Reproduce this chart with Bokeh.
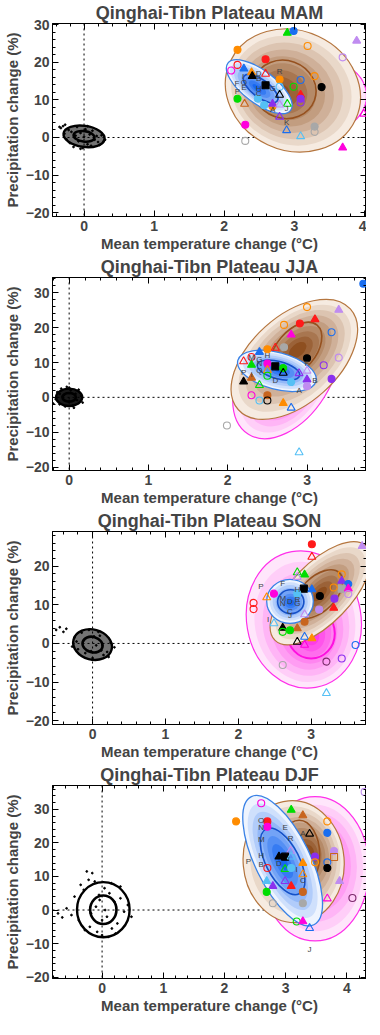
import numpy as np
from bokeh.plotting import figure
from bokeh.layouts import column
from bokeh.models import ColumnDataSource, Span, LinearAxis, Range1d, SingleIntervalTicker
from bokeh.embed import file_html
from bokeh.resources import INLINE
from bokeh.core.properties import value

FONT = "Liberation Sans"

seasons = ["MAM", "JJA", "SON", "DJF"]
title_prefix = "Qinghai-Tibn Plateau "
x_label = "Mean temperature change (\u00b0C)"
y_label = "Precipitation change (%)"

# axis ranges
x_ranges = {"MAM": (-0.45, 4.03), "JJA": (-0.21, 3.75), "SON": (-0.55, 3.76), "DJF": (-0.81, 4.32)}
y_ranges = {"MAM": (-21.0, 30.3), "JJA": (-21.0, 34.4), "SON": (-21.0, 29.0), "DJF": (-20.4, 37.1)}

# ---------------- model markers: temperature change, precipitation change, symbol kind, model colour
mam_t = [2.90, 2.99, 3.89, 2.19, 3.19, 2.19, 3.69, 2.10, 2.59, 2.28,
         2.39, 2.40, 2.59, 2.59, 2.79, 3.09, 3.29, 2.99, 3.39, 2.79,
         2.79, 3.09, 3.09, 3.09, 2.19, 2.29, 2.57, 2.48, 2.69, 2.69,
         2.90, 2.79, 2.79, 2.30, 2.89, 3.09, 3.29, 3.29, 2.30, 3.69, 3.99]
mam_p = [27.8, 28.3, 25.7, 23.3, 24.3, 19.3, 21.3, 17.8, 20.8, 18.3,
         17.3, 16.3, 16.9, 13.9, 15.4, 15.3, 16.3, 13.5, 13.4, 13.5,
         11.3, 11.3, 10.3, 9.3, 10.3, 8.9, 8.6, 10.3, 8.3, 8.9,
         8.9, 8.7, 5.5, 3.4, 1.9, 0.3, 2.9, 1.5, -0.9, -2.7, 6.3]
mam_k = ['t', 'c', 't', 'c', 'o', 'o', 'o', 'o', 'c', 't',
         't', 't', 'v', 's', 'c', 'o', 'o', 'o', 'c', 'o',
         'v', 't', 'c', 'o', 'c', 'v', 'c', 'c', 'c', 't',
         'v', 'v', 'v', 'c', 'v', 'v', 'c', 'o', 'o', 't', 'v']
mam_c = ['green', 'blue', 'lpurple', 'orange', 'orange', 'red', 'lpurple', 'magenta', 'red', 'blue',
         'orange', 'black', 'red', 'black', 'orange', 'blue', 'orange', 'green', 'black', 'lblue',
         'black', 'red', 'purple', 'purple', 'green', 'brown', 'lblue', 'lblue', 'orange', 'purple',
         'green', 'lpurple', 'purple', 'magenta', 'blue', 'lblue', 'gray', 'gray', 'gray', 'magenta', 'magenta']

jja_t = [3.71, 3.00, 3.40, 2.71, 2.91, 3.10, 3.31, 2.80, 2.50, 2.60,
         2.71, 2.40, 2.30, 3.00, 3.40, 2.20, 2.30, 2.50, 2.60, 2.70,
         3.21, 3.00, 2.70, 2.90, 2.50, 2.50, 2.20, 2.30, 2.40, 2.80,
         3.00, 3.31, 3.00, 2.30, 2.50, 2.40, 2.50, 2.70, 2.80, 1.99, 2.90]
jja_p = [32.6, 25.9, 25.1, 20.8, 21.2, 22.4, 18.7, 18.0, 13.8, 14.2,
         14.4, 13.0, 11.6, 11.2, 11.4, 10.3, 9.3, 9.7, 8.9, 8.4,
         9.2, 7.6, 7.0, 6.9, 7.8, 6.2, 4.5, 5.6, 3.5, 4.4,
         5.1, 5.3, 3.2, 0.6, 0.6, -0.9, -0.9, -1.7, -3.0, -8.1, -15.8]
jja_k = ['c', 'o', 't', 'o', 'c', 't', 'o', 't', 'c', 'v',
         'c', 't', 'o', 'c', 'o', 'v', 't', 'c', 's', 'c',
         'o', 'v', 'v', 'v', 'v', 'o', 't', 't', 'v', 'c',
         't', 'c', 'c', 'o', 'c', 'o', 'o', 't', 'v', 'o', 'v']
jja_c = ['blue', 'orange', 'lpurple', 'orange', 'red', 'red', 'blue', 'magenta', 'orange', 'red',
         'gray', 'blue', 'red', 'black', 'lpurple', 'red', 'green', 'magenta', 'black', 'green',
         'purple', 'lpurple', 'black', 'purple', 'orange', 'green', 'black', 'brown', 'green', 'lblue',
         'purple', 'purple', 'lpurple', 'magenta', 'brown', 'lblue', 'black', 'orange', 'blue', 'gray', 'lblue']

son_t = [3.01, 3.70, 3.01, 2.81, 2.91, 2.81, 3.42, 3.42, 3.51, 3.42,
         3.51, 3.51, 3.31, 2.90, 3.01, 3.12, 3.32, 3.31, 3.11, 2.49,
         2.81, 2.39, 2.21, 2.21, 2.91, 2.91, 2.61, 2.81, 2.61, 2.71,
         2.81, 2.91, 3.01, 2.91, 3.61, 3.42, 3.21, 2.61, 3.21, 2.49]
son_p = [25.7, 25.2, 22.4, 18.4, 17.8, 17.2, 17.9, 16.2, 15.4, 14.2,
         14.2, 12.8, 14.5, 14.2, 14.0, 12.3, 11.6, 9.2, 8.8, 12.9,
         12.9, 11.9, 10.5, 8.9, 7.5, 5.6, 4.0, 3.9, 3.0, 3.4,
         0.4, 1.7, 1.3, -0.4, -0.4, -3.9, -4.7, -5.6, -12.9, 5.2]
son_k = ['c', 't', 'v', 'v', 't', 'v', 'o', 't', 'c', 's',
         't', 'o', 'o', 's', 't', 'c', 'c', 't', 'c', 'c',
         'c', 'v', 'o', 'o', 'v', 'c', 't', 't', 'o', 'c',
         'v', 'v', 't', 'v', 'o', 'o', 'o', 'o', 'v', 'v']
son_c = ['red', 'lpurple', 'red', 'green', 'green', 'lpurple', 'orange', 'purple', 'blue', 'gray',
         'magenta', 'lpurple', 'orange', 'black', 'blue', 'black', 'purple', 'red', 'lpurple', 'magenta',
         'lblue', 'orange', 'red', 'red', 'lpurple', 'brown', 'black', 'brown', 'green', 'green',
         'black', 'blue', 'orange', 'magenta', 'blue', 'purple', 'dpurple', 'gray', 'lblue', 'lblue']

djf_t = [4.29, 2.60, 3.09, 3.28, 2.19, 2.70, 3.68, 2.70, 3.39, 3.68,
         3.79, 3.08, 2.89, 2.99, 3.09, 3.48, 3.79, 3.48, 3.28, 3.68,
         3.68, 2.70, 2.99, 3.09, 3.28, 2.69, 3.88, 2.99, 2.79, 3.09,
         2.69, 3.28, 3.68, 4.09, 2.79, 3.28, 3.18, 3.28, 3.39]
djf_p = [35.2, 31.8, 29.8, 28.2, 26.4, 26.4, 26.4, 24.8, 22.7, 23.0,
         17.6, 17.6, 15.9, 15.9, 15.9, 15.9, 15.8, 14.2, 14.0, 14.2,
         12.5, 12.5, 12.2, 12.5, 10.6, 8.6, 8.6, 8.6, 7.1, 7.1,
         5.4, 5.4, 3.4, 3.6, 2.0, 2.0, -3.4, -3.4, -5.4]
djf_k = ['o', 'o', 't', 't', 'c', 'c', 'o', 'c', 'v', 'c',
         'c', 'v', 't', 's', 'v', 'c', 'q', 'o', 't', 'o',
         'c', 'o', 'v', 'c', 'v', 't', 't', 'v', 't', 't',
         'c', 'c', 'v', 'o', 'o', 'c', 'o', 't', 'v']
djf_c = ['lpurple', 'magenta', 'green', 'brown', 'orange', 'red', 'orange', 'magenta', 'black', 'blue',
         'lpurple', 'lpurple', 'black', 'black', 'lblue', 'purple', 'brown', 'orange', 'orange', 'blue',
         'black', 'red', 'green', 'lblue', 'orange', 'lblue', 'lpurple', 'purple', 'purple', 'red',
         'green', 'brown', 'magenta', 'dpurple', 'gray', 'gray', 'green', 'magenta', 'blue']

# ---------------- model letters
mam_lab = ['D', 'B', 'R', 'I', 'F', 'O', 'E', 'P', 'H', 'C', 'G', 'A', 'J', 'K']
mam_lx = [2.49, 2.49, 2.79, 2.27, 2.18, 2.28, 2.28, 2.19, 2.49, 2.49, 2.69, 2.69, 2.89, 2.89]
mam_ly = [17.1, 15.6, 17.5, 16.3, 14.4, 14.6, 13.2, 12.2, 12.9, 11.7, 12.9, 7.5, 7.7, 4.0]

jja_lab = ['H', 'M', 'G', 'N', 'Q', 'P', 'I', 'D', 'A', 'B', 'F']
jja_lx = [2.50, 2.30, 2.40, 2.40, 2.40, 2.20, 2.30, 2.60, 2.90, 3.10, 3.00]
jja_ly = [11.9, 11.4, 10.9, 9.8, 7.6, 7.0, 6.7, 4.7, 2.1, 4.8, 9.8]

son_lab = ['P', 'F', 'H', 'M', 'N', 'D', 'R', 'G', 'C', 'J', 'I']
son_lx = [2.31, 2.61, 2.81, 2.61, 2.61, 2.71, 2.81, 2.81, 2.71, 2.71, 2.41]
son_ly = [14.7, 15.5, 14.0, 11.6, 10.3, 10.8, 11.5, 10.3, 8.4, 7.2, 6.2]

djf_lab = ['O', 'N', 'E', 'A', 'M', 'R', 'H', 'B', 'P', 'D', 'I', 'C', 'J']
djf_lx = [2.60, 2.60, 2.99, 3.28, 2.60, 3.08, 2.60, 2.60, 2.39, 2.89, 3.18, 3.28, 3.39]
djf_ly = [26.6, 24.7, 24.5, 22.8, 21.0, 21.2, 16.1, 13.7, 14.4, 14.0, 12.2, 8.8, -11.9]

# ---------------- internal-variability (control) samples
mam_cx = [-0.33, -0.30, -0.28, -0.25, -0.22, -0.20, -0.18, -0.15, -0.12, -0.10, -0.08, -0.05, -0.02, 0.00, 0.02,
          0.05, 0.08, 0.10, 0.12, 0.15, 0.18, 0.20, 0.22, 0.25, 0.28, -0.35, -0.27, 0.30, 0.05, -0.05]
mam_cy = [2.5, 3.0, 1.0, -0.5, 2.0, -1.5, 1.5, -2.5, 0.5, 2.8, -1.0, 1.2, -2.8, 0.2, 2.2,
          -1.8, 0.8, -2.2, 1.8, -0.6, 0.4, -1.2, -2.0, 0.6, -1.0, 2.8, 3.4, -0.6, 3.0, -3.0]
jja_cx = [-0.17, -0.15, -0.12, -0.10, -0.08, -0.05, -0.03, 0.00, 0.02, 0.05,
          0.08, 0.10, 0.12, 0.15, -0.20, 0.17, 0.00, -0.06, 0.06, -0.12]
jja_cy = [-0.5, 1.5, -2.0, 2.5, 0.3, -2.6, 3.0, -1.2, 2.0, -2.3,
          1.0, -0.8, 2.2, 0.4, -1.8, -1.5, 2.8, 0.8, -3.0, 1.0]
son_cx = [-0.50, -0.45, -0.40, -0.36, -0.25, -0.20, -0.15, -0.10, -0.05, 0.00, 0.05, 0.10,
          0.15, 0.20, 0.25, 0.30, -0.22, -0.12, 0.02, 0.12, 0.22, -0.02, 0.08, -0.28]
son_cy = [3.5, 4.2, 3.0, 3.8, 1.5, -1.5, 2.8, -2.5, 3.5, -3.8, -0.5, 2.0,
          -3.0, -2.2, 0.2, -1.0, 0.5, 0.8, 1.8, -1.8, -3.5, -2.0, 3.0, -0.8]
djf_cx = [-0.72, -0.65, -0.58, -0.50, -0.45, -0.38, -0.30, -0.25, -0.20, -0.16, -0.12, -0.08,
          -0.04, 0.00, 0.04, 0.08, 0.12, 0.16, 0.20, 0.25, 0.30, 0.36, 0.42, 0.48,
          -0.28, -0.22, 0.10, -0.10, 0.30, -0.35, 0.00, 0.15, -0.18, 0.22, 0.05, -0.05]
djf_cy = [-1.0, -2.2, 0.5, -1.5, 4.0, -3.0, 6.0, 11.5, -5.0, 11.0, 8.5, -6.5,
          3.0, -7.5, 6.5, -2.0, 5.0, -5.5, 2.5, -4.0, 7.0, -0.5, 1.5, -2.0,
          -6.0, 9.0, -8.0, 1.0, 3.5, 7.5, -3.0, 8.0, -1.0, -7.0, 0.0, 4.5]

# ---------------- distributions: (centre T, centre P, width in degC, height in %, tilt deg); peak = densest point
mam_ctrl = [(0.00, 0.3, 0.59, 5.6, -8), (0.00, 0.3, 0.30, 2.8, -8)]
jja_ctrl = [(0.00, 0.0, 0.33, 5.0, 0), (0.00, 0.0, 0.17, 2.5, 0)]
son_ctrl = [(0.00, -0.3, 0.54, 7.8, -15), (0.00, -0.3, 0.28, 4.0, -15)]
djf_ctrl = [(0.02, 0.1, 0.86, 16.4, 0), (0.02, 0.1, 0.43, 8.5, 0)]

mam_mag = (3.35, 11.0, 1.36, 20.0, 0); mam_mag_peak = (3.30, 10.5); mam_mag_in = None
mam_brn = (2.98, 12.5, 1.97, 31.8, -25); mam_brn_peak = (2.80, 12.0); mam_brn_in = (2.86, 12.8, 0.91, 15.4, -20)
mam_blu = (2.50, 13.5, 1.12, 8.7, -37); mam_blu_peak = (2.47, 13.2); mam_blu_in = (2.52, 13.0, 0.59, 4.6, -37)

jja_mag = (2.74, 6.9, 1.81, 25.7, 58); jja_mag_peak = (2.75, 3.0); jja_mag_in = None
jja_brn = (2.84, 10.9, 1.90, 25.1, 42); jja_brn_peak = (2.88, 13.5); jja_brn_in = (2.86, 13.5, 0.83, 11.2, 50)
jja_blu = (2.62, 7.6, 1.02, 10.6, -15); jja_blu_peak = (2.66, 7.8); jja_blu_in = (2.64, 7.8, 0.55, 5.0, -15)

son_mag = (2.90, 6.2, 1.57, 35.7, 10); son_mag_peak = (3.00, 2.0); son_mag_in = (3.00, 2.6, 0.65, 13.0, 0)
son_brn = (3.13, 13.0, 1.80, 15.5, 46); son_brn_peak = (3.12, 12.8); son_brn_in = (3.10, 12.8, 0.82, 8.8, 45)
son_blu = (2.71, 10.9, 0.64, 11.4, 0); son_blu_peak = (2.72, 10.6); son_blu_in = (2.72, 10.8, 0.36, 6.2, 0)

djf_mag = (3.48, 12.3, 1.76, 43.0, 0); djf_mag_peak = (3.55, 14.0); djf_mag_in = None
djf_brn = (3.13, 14.4, 1.65, 36.4, 5); djf_brn_peak = (3.35, 17.0); djf_brn_in = (3.22, 16.5, 0.67, 20.5, 0)
djf_blu = (2.95, 14.7, 2.33, 16.4, -64); djf_blu_peak = (2.95, 14.5); djf_blu_in = (2.95, 14.5, 1.19, 10.0, -63)

ctrl_fill_alpha = {"MAM": 0.55, "JJA": 0.9, "SON": 0.55, "DJF": 0.0}

COLORS = {'red': '#ff1a1a', 'orange': '#ff8c00', 'green': '#00dd00', 'blue': '#1a6ef0',
          'lblue': '#55c0f5', 'purple': '#8a30ee', 'lpurple': '#c08cf0', 'magenta': '#ff00dd',
          'brown': '#c8651e', 'black': '#000000', 'gray': '#a8a8a8', 'dpurple': '#7a2a6a'}
KIND = {'c': ('circle', 1.0), 'o': ('circle', 0.0), 't': ('triangle', 1.0),
        'v': ('triangle', 0.0), 's': ('square', 1.0), 'q': ('square', 0.0)}
MSIZE = {'circle': 7, 'triangle': 8, 'square': 7}


def lerp_hex(c1, c2, t):
    a = [int(c1[i:i + 2], 16) for i in (1, 3, 5)]
    b = [int(c2[i:i + 2], 16) for i in (1, 3, 5)]
    return "#%02x%02x%02x" % tuple(int(round(a[k] + (b[k] - a[k]) * t)) for k in range(3))


def shaded(p, ell, peak, c_out, c_in, n, line_color, line_width, smin=0.14):
    cx, cy, w, h, ang = ell
    pkx, pky = peak
    d = dict(x=[], y=[], w=[], h=[], c=[])
    for i in range(n):
        t = i / (n - 1)
        s = 1 - t * (1 - smin)
        d['x'].append(cx + (pkx - cx) * t)
        d['y'].append(cy + (pky - cy) * t)
        d['w'].append(w * s)
        d['h'].append(h * s)
        d['c'].append(lerp_hex(c_out, c_in, t))
    p.ellipse(x='x', y='y', width='w', height='h', angle=np.deg2rad(ang),
              fill_color='c', line_color=None, source=ColumnDataSource(d))
    p.ellipse(x=cx, y=cy, width=w, height=h, angle=np.deg2rad(ang),
              fill_color=None, line_color=line_color, line_width=line_width)


def contour(p, ell, color, lw):
    if ell is None:
        return
    cx, cy, w, h, ang = ell
    p.ellipse(x=cx, y=cy, width=w, height=h, angle=np.deg2rad(ang),
              fill_color=None, line_color=color, line_width=lw)


G = globals()
figs = []
for s in seasons:
    k = s.lower()
    xr, yr = x_ranges[s], y_ranges[s]
    p = figure(width=366, height=254, x_range=Range1d(*xr), y_range=Range1d(*yr),
               output_backend="svg", toolbar_location=None,
               min_border_left=0, min_border_right=0, min_border_top=0, min_border_bottom=0)
    p.title.text = title_prefix + s
    p.title.text_font = FONT
    p.title.text_font_size = "18px"
    p.title.text_font_style = "bold"
    p.title.align = "center"
    p.title.offset = 0
    p.title.standoff = 1
    p.grid.visible = False
    p.outline_line_color = "black"
    p.outline_line_width = 1
    p.background_fill_color = "white"

    # reference lines (under everything)
    p.add_layout(Span(location=0, dimension='height', line_dash="2 3", line_color="black",
                      line_width=1, level='underlay'))
    p.add_layout(Span(location=0, dimension='width', line_dash="2 3", line_color="black",
                      line_width=1, level='underlay'))

    # axes
    for ax in (p.xaxis[0], p.yaxis[0]):
        ax.axis_label_text_font = FONT
        ax.axis_label_text_font_size = "15px"
        ax.axis_label_text_font_style = "bold"
        ax.major_label_text_font = FONT
        ax.major_label_text_font_size = "14px"
        ax.major_label_text_font_style = "bold"
        ax.major_tick_in = 6
        ax.major_tick_out = 0
        ax.minor_tick_in = 3
        ax.minor_tick_out = 0
        ax.axis_line_color = "black"
        ax.major_tick_line_color = "black"
        ax.minor_tick_line_color = "black"
    p.xaxis[0].ticker = SingleIntervalTicker(interval=1, num_minor_ticks=5)
    p.yaxis[0].ticker = SingleIntervalTicker(interval=10, num_minor_ticks=5)
    p.xaxis[0].axis_label = x_label
    p.yaxis[0].axis_label = y_label
    p.xaxis[0].axis_label_standoff = 1
    p.xaxis[0].major_label_standoff = 4
    p.yaxis[0].axis_label_standoff = 2
    p.yaxis[0].major_label_standoff = 3
    for loc, interval in (("above", 1), ("right", 10)):
        ax = LinearAxis(ticker=SingleIntervalTicker(interval=interval, num_minor_ticks=5),
                        major_label_text_color=None, major_label_text_font_size="1px",
                        major_label_standoff=0,
                        major_tick_in=6, major_tick_out=0, minor_tick_in=3, minor_tick_out=0,
                        axis_line_color="black")
        p.add_layout(ax, loc)

    # control (internal variability) cloud
    ctrl = G[k + "_ctrl"]
    p.scatter(G[k + "_cx"], G[k + "_cy"], size=1.8, color="black", marker="circle")
    o = ctrl[0]
    p.ellipse(x=o[0], y=o[1], width=o[2], height=o[3], angle=np.deg2rad(o[4]),
              fill_color="black", fill_alpha=ctrl_fill_alpha[s], line_color="black", line_width=2.4)
    i_ = ctrl[1]
    p.ellipse(x=i_[0], y=i_[1], width=i_[2], height=i_[3], angle=np.deg2rad(i_[4]),
              fill_color=None, line_color="black", line_width=2.6)

    # distributions
    shaded(p, G[k + "_mag"], G[k + "_mag_peak"], "#ffe6fb", "#ff3ce8", 8, "#ff30ea", 1.2)
    contour(p, G[k + "_mag_in"], "#ff10e0", 2.0)
    shaded(p, G[k + "_brn"], G[k + "_brn_peak"], "#f6ebe1", "#8e4f20", 9, "#b5763f", 1.2)
    contour(p, G[k + "_brn_in"], "#96511f", 1.6)
    shaded(p, G[k + "_blu"], G[k + "_blu_peak"], "#eef4fe", "#1767f0", 8, "#3a82e6", 1.3)
    contour(p, G[k + "_blu_in"], "#1450c8", 1.6)

    # model markers
    mk = G[k + "_k"]
    mc = G[k + "_c"]
    src = ColumnDataSource(dict(
        x=G[k + "_t"], y=G[k + "_p"],
        marker=[KIND[q][0] for q in mk],
        fa=[KIND[q][1] for q in mk],
        size=[MSIZE[KIND[q][0]] for q in mk],
        col=[COLORS[c] for c in mc]))
    p.scatter(x='x', y='y', marker='marker', size='size', fill_color='col', fill_alpha='fa',
              line_color='col', line_width=1.1, source=src)

    # letters
    p.text(x=G[k + "_lx"], y=G[k + "_ly"], text=G[k + "_lab"], text_font=value(FONT),
           text_font_size="8px", text_color="#404040", text_align="center", text_baseline="middle")
    figs.append(p)

layout = column(*figs, spacing=0)
open("out.html", "w").write(file_html(layout, INLINE))
